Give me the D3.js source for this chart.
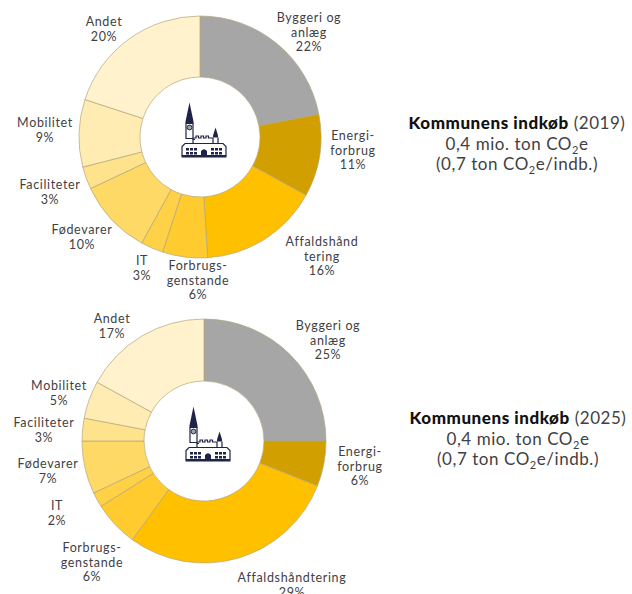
<!DOCTYPE html>
<html><head><meta charset="utf-8">
<script src="https://cdn.jsdelivr.net/npm/d3@7"></script>
<style>html,body{margin:0;padding:0;background:#fff;overflow:hidden}svg{display:block}
text{font-family:Lato,sans-serif;fill:#3f3f44;font-size:12.5px;letter-spacing:.65px;text-anchor:middle}
.big{font-size:17px;letter-spacing:.55px}.big .b{font-weight:900;fill:#111}</style></head><body>
<svg id="c" width="632" height="594"></svg>
<script>
const categories=["Byggeri og anlæg","Energiforbrug","Affaldshåndtering","Forbrugsgenstande","IT","Fødevarer","Faciliteter","Mobilitet","Andet"];
const values2019=[22,11,16,6,3,10,3,9,20];
const values2025=[25,6,29,6,2,7,3,5,17];
const colors=["#a6a6a6","#d29f00","#ffc000","#ffcb2f","#ffd147","#ffd966","#ffe28c","#ffecb3","#fff2cc"];
const labels2019=[["Byggeri og","anlæg","22%"],["Energi-","forbrug","11%"],["Affaldshånd","tering","16%"],["Forbrugs-","genstande","6%"],["IT","3%"],["Fødevarer","10%"],["Faciliteter","3%"],["Mobilitet","9%"],["Andet","20%"]];
const labels2025=[["Byggeri og","anlæg","25%"],["Energi-","forbrug","6%"],["Affaldshåndtering","29%"],["Forbrugs-","genstande","6%"],["IT","2%"],["Fødevarer","7%"],["Faciliteter","3%"],["Mobilitet","5%"],["Andet","17%"]];
const labelPos2019=[[309,22],[353,140],[322,246],[198,270],[142,265],[82,234],[50,189],[45,127],[104,26]];
const labelPos2025=[[328,330],[360,456],[292,582],[92,552],[57,510],[48,468],[44,427],[59,390],[112,323]];
const svg=d3.select("#c");
function donut(cx,cy,R,r,vals,labs,pos){
  const g=svg.append("g").attr("transform",`translate(${cx},${cy})`);
  const arcs=d3.pie().sort(null)(vals);
  const arc=d3.arc().innerRadius(r).outerRadius(R);
  g.selectAll("path").data(arcs).join("path").attr("d",arc)
   .attr("fill",(d,i)=>colors[i]).attr("stroke","#b3a67c").attr("stroke-width",.7);
  labs.forEach((l,i)=>{
    const t=svg.append("text").attr("x",pos[i][0]).attr("y",pos[i][1]);
    l.forEach((s,j)=>t.append("tspan").attr("x",pos[i][0]).attr("dy",j?14.5:0).text(s));
  });
  const ic=g.append("g").attr("transform","translate(-18,-34.5)");
  const n="#1f2348";
  ic.append("path").attr("fill",n).attr("d","M7.5 0 L11.5 19 L11.5 21 L3.5 21 L3.5 19 Z");
  ic.append("path").attr("fill","none").attr("stroke",n).attr("stroke-width",1.2).attr("d","M4 21 H11 V36 H4 Z M11 36 V37 H13");
  ic.append("circle").attr("cx",7.5).attr("cy",25).attr("r",2.4).attr("fill","#9aa").attr("stroke",n).attr("stroke-width",1);
  ic.append("path").attr("fill",n).attr("d","M33.5 25 L36 33 V35 H31 V33 Z");
  ic.append("path").attr("fill","none").attr("stroke",n).attr("stroke-width",1.2).attr("d","M11 35.5 h3 v-2 h2.5 v2 h2.5 v-2 h2.5 v2 h2.5 v-2 h2.5 v2 h5 M31 35 V41 M36 35 V41 M36 41 H41 L44 44 V53 H0 V44 L3 41 H4 M3 41 H36 M11 41 V37");
  ic.append("path").attr("fill",n).attr("d","M-0.5 53 H44.5 V55 H-0.5 Z M19 55 V48.5 Q22 45 25 48.5 V55 Z");
  [4,8,12,29,33,37].forEach(x=>{
    [45.5,49.5].forEach(y=>ic.append("rect").attr("x",x).attr("y",y).attr("width",3).attr("height",2.5).attr("fill",n));
  });
}
donut(200,137,121,60,values2019,labels2019,labelPos2019);
donut(204,441,122,60,values2025,labels2025,labelPos2025);
function note(cx,y,year){
  const a=svg.append("text").attr("class","big").attr("x",cx).attr("y",y);
  a.append("tspan").attr("class","b").text("Kommunens indkøb");
  a.append("tspan").text(" ("+year+")");
  const sub=(p,yy)=>{const t=svg.append("text").attr("class","big").attr("x",cx).attr("y",yy);
    t.append("tspan").text(p);
    t.append("tspan").attr("dy",4).style("font-size","11px").text("2");
    t.append("tspan").attr("dy",-4).text(p.startsWith("(")?"e/indb.)":"e");};
  sub("0,4 mio. ton CO",y+21);
  sub("(0,7 ton CO",y+41);
}
note(517,129,2019);
note(518,424,2025);
</script></body></html>
